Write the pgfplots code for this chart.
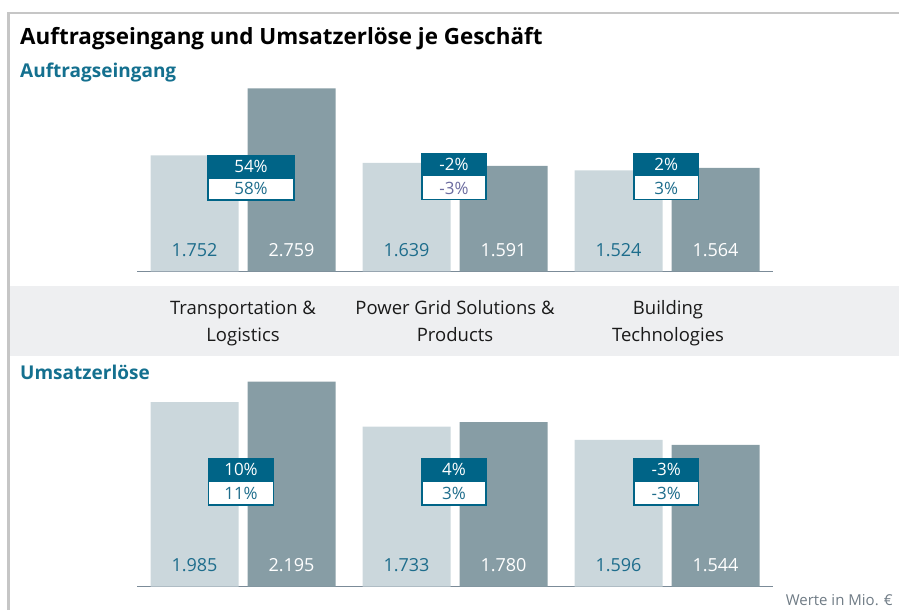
\documentclass[border=0pt]{standalone}
\usepackage{pgfplots}
\pgfplotsset{compat=1.18}
\usepackage{pgfplotstable}
\usepackage{fontspec}
\setmainfont{Open Sans}
\definecolor{frame}{HTML}{C6C6C6}
\definecolor{band}{HTML}{EEEFF1}
\definecolor{lightbar}{HTML}{CBD7DC}
\definecolor{darkbar}{HTML}{879DA5}
\definecolor{axisln}{HTML}{7B8B98}
\definecolor{boxteal}{HTML}{006487}
\definecolor{headteal}{HTML}{14708F}
\definecolor{valteal}{HTML}{1E6D8C}
\definecolor{lilac}{HTML}{6C6CA0}
\definecolor{note}{HTML}{6F7B85}
\definecolor{cattext}{HTML}{1A1A1A}

\pgfplotstableread{
x ae1 ae2 ue1 ue2
0 1752 2759 1985 2195
1 1639 1591 1733 1780
2 1524 1564 1596 1544
}\data

\pgfplotsset{barstyle/.style={
  scale only axis, width=636pt, xmin=-0.5, xmax=2.5, ymin=0,
  axis x line=bottom, axis y line=none,
  axis line style={draw=axisln, line width=1.5pt, -},
  every outer x axis line/.append style={-},
  xtick=\empty, ytick=\empty, clip=false,
  ybar, bar width=88pt,
}}

\newcommand{\valfont}{\fontsize{18}{21}\selectfont}
\newcommand{\pctfont}{\fontsize{17}{20}\selectfont}
\newcommand{\catfont}{\fontsize{18.5}{22}\selectfont}

% percent box: #1 x-left, #2 x-right, #3 Y top, #4 Y mid, #5 Y bottom, #6 top text, #7 bottom text, #8 bottom colour
\newcommand{\pctbox}[8]{%
  \fill[boxteal] (#1,#4) rectangle (#2,#3);
  \filldraw[fill=white, draw=boxteal, line width=1.2pt] (#1,#5) rectangle (#2,#4);
  \draw[boxteal, line width=1.2pt] (#1,#5) rectangle (#2,#3);
  \node[anchor=base, text=white, font=\pctfont, inner sep=0pt] at ({(#1+#2)/2},{#4+5}) {#6};
  \node[anchor=base, text=#8, font=\pctfont, inner sep=0pt] at ({(#1+#2)/2},{#5+5}) {#7};
}

\begin{document}
\begin{tikzpicture}[x=1pt,y=1pt]
\useasboundingbox (0,0) rectangle (899,610);
% frame
\draw[frame, line width=2.4pt] (8.6,0) -- (8.6,597) -- (899,597);
% band
\fill[band] (10,254) rectangle (899,324);

% titles
\node[anchor=base west, inner sep=0pt, font=\fontsize{22.4}{26}\selectfont\bfseries, text=black] at (20,565) {Auftragseingang und Umsatzerlöse je Geschäft};
\node[anchor=base west, inner sep=0pt, font=\fontsize{19}{22}\selectfont\bfseries, text=headteal] at (20,532.5) {Auftragseingang};
\node[anchor=base west, inner sep=0pt, font=\fontsize{19}{22}\selectfont\bfseries, text=headteal] at (20,230) {Umsatzerlöse};
\node[anchor=base east, inner sep=0pt, font=\fontsize{15}{18}\selectfont, text=note] at (893,5) {Werte in Mio. €};

% category labels
\foreach \cx/\la/\lb in {243/{Transportation \&}/{Logistics}, 455/{Power Grid Solutions \&}/{Products}, 668/{Building}/{Technologies}}{
  \node[anchor=base, inner sep=0pt, font=\catfont, text=cattext] at (\cx,295) {\la};
  \node[anchor=base, inner sep=0pt, font=\catfont, text=cattext] at (\cx,268) {\lb};
}

% top axis: Auftragseingang
\begin{axis}[barstyle, at={(137pt,338.5pt)}, anchor=south west, height=192.35pt, ymax=2900]
\addplot[fill=lightbar, draw=none, bar shift=-48.5pt] table[x=x,y=ae1]{\data};
\addplot[fill=darkbar, draw=none, bar shift=48.5pt] table[x=x,y=ae2]{\data};
\node[anchor=base, inner sep=0pt, font=\valfont, text=valteal, xshift=-48.5pt, yshift=14.5pt] at (axis cs:0,0) {1.752};
\node[anchor=base, inner sep=0pt, font=\valfont, text=white, xshift=48.5pt, yshift=14.5pt] at (axis cs:0,0) {2.759};
\node[anchor=base, inner sep=0pt, font=\valfont, text=valteal, xshift=-48.5pt, yshift=14.5pt] at (axis cs:1,0) {1.639};
\node[anchor=base, inner sep=0pt, font=\valfont, text=white, xshift=48.5pt, yshift=14.5pt] at (axis cs:1,0) {1.591};
\node[anchor=base, inner sep=0pt, font=\valfont, text=valteal, xshift=-48.5pt, yshift=14.5pt] at (axis cs:2,0) {1.524};
\node[anchor=base, inner sep=0pt, font=\valfont, text=white, xshift=48.5pt, yshift=14.5pt] at (axis cs:2,0) {1.564};
\end{axis}

% bottom axis: Umsatzerlöse
\begin{axis}[barstyle, at={(137pt,23.3pt)}, anchor=south west, ymin=86, ymax=2300, height=215.2pt, clip=true]
\addplot[fill=lightbar, draw=none, bar shift=-48.5pt] table[x=x,y=ue1]{\data};
\addplot[fill=darkbar, draw=none, bar shift=48.5pt] table[x=x,y=ue2]{\data};
\node[anchor=base, inner sep=0pt, font=\valfont, text=valteal, xshift=-48.5pt, yshift=15pt] at (axis cs:0,86) {1.985};
\node[anchor=base, inner sep=0pt, font=\valfont, text=white, xshift=48.5pt, yshift=15pt] at (axis cs:0,86) {2.195};
\node[anchor=base, inner sep=0pt, font=\valfont, text=valteal, xshift=-48.5pt, yshift=15pt] at (axis cs:1,86) {1.733};
\node[anchor=base, inner sep=0pt, font=\valfont, text=white, xshift=48.5pt, yshift=15pt] at (axis cs:1,86) {1.780};
\node[anchor=base, inner sep=0pt, font=\valfont, text=valteal, xshift=-48.5pt, yshift=15pt] at (axis cs:2,86) {1.596};
\node[anchor=base, inner sep=0pt, font=\valfont, text=white, xshift=48.5pt, yshift=15pt] at (axis cs:2,86) {1.544};
\end{axis}

% percent boxes
\pctbox{208}{294}{454}{432}{410}{54\%}{58\%}{valteal}
\pctbox{422}{486}{456.7}{434.3}{410.7}{-2\%}{-3\%}{lilac}
\pctbox{634}{698.5}{456.7}{434.3}{410.7}{2\%}{3\%}{valteal}
\pctbox{208.7}{273.3}{151}{129}{105}{10\%}{11\%}{valteal}
\pctbox{422}{486}{151}{129}{105}{4\%}{3\%}{valteal}
\pctbox{634}{698.3}{151}{129}{105}{-3\%}{-3\%}{valteal}
\end{tikzpicture}
\end{document}
